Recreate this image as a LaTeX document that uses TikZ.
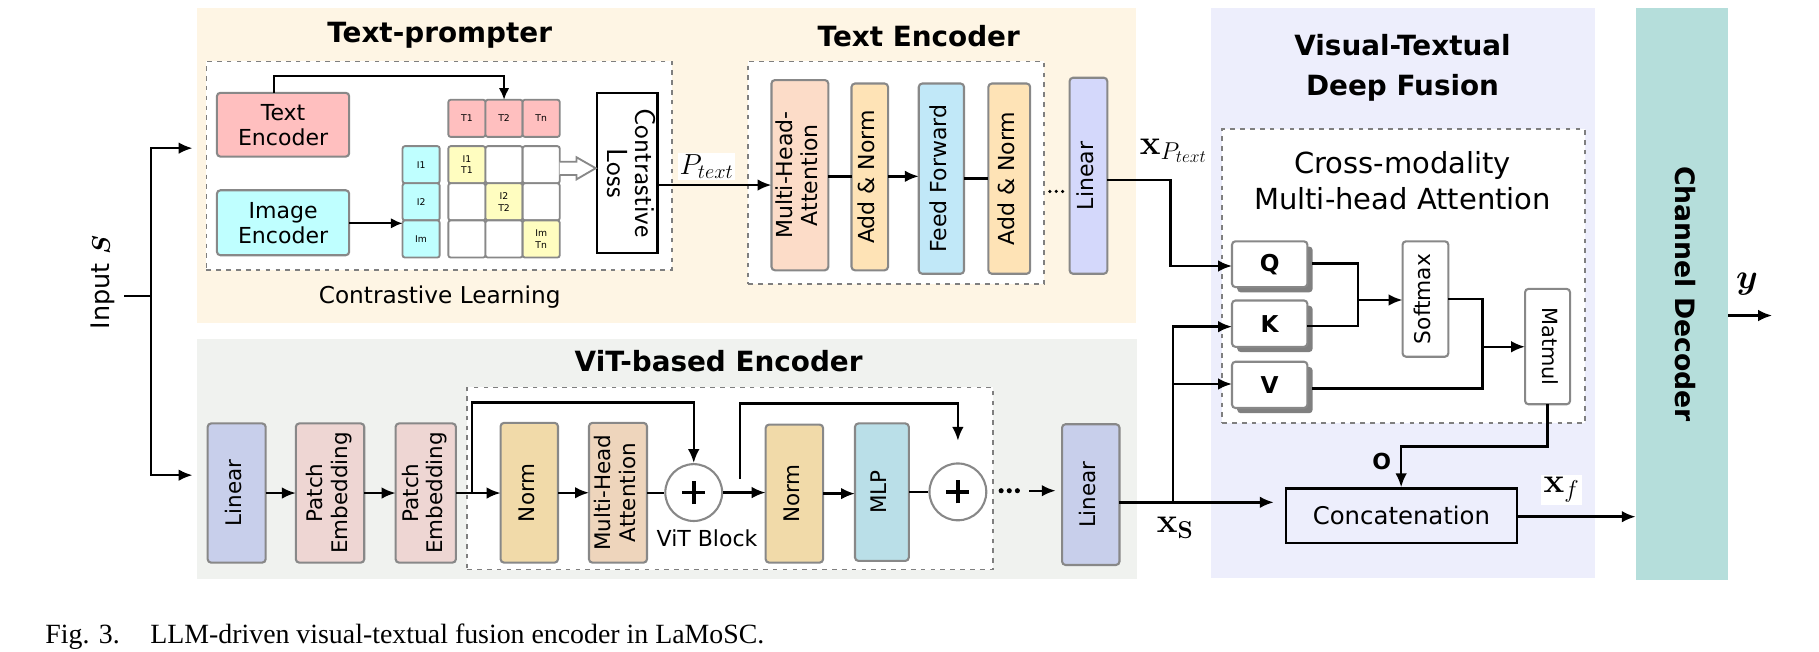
\RequirePackage{fix-cm}
\documentclass[tikz,border=0pt]{standalone}
\usepackage{amsmath}
\usepackage{bm}
\usepackage{graphicx}
\usepackage[no-math]{fontspec}
\setmainfont{DejaVu Sans}
\newfontfamily\capfont{Liberation Serif}
\usetikzlibrary{arrows.meta,shadows}

\definecolor{tpcol}{HTML}{FEF5E4}
\definecolor{vitcol}{HTML}{F0F2EF}
\definecolor{vtcol}{HTML}{EDEEFC}
\definecolor{cdcol}{HTML}{B5DEDB}
\definecolor{pinkc}{HTML}{FFBFBF}
\definecolor{cyanc}{HTML}{BFFFFF}
\definecolor{yelc}{HTML}{FFFDC0}
\definecolor{mhaT}{HTML}{FCDCC8}
\definecolor{anT}{HTML}{FEE3B6}
\definecolor{ffT}{HTML}{C1E8F8}
\definecolor{linT}{HTML}{D4D8FB}
\definecolor{linV}{HTML}{C8CFEB}
\definecolor{peV}{HTML}{EED6D3}
\definecolor{normV}{HTML}{F1DAA9}
\definecolor{mhaV}{HTML}{EED5BC}
\definecolor{mlpV}{HTML}{BADFE8}
\definecolor{bordergray}{HTML}{888888}
\definecolor{dashgray}{HTML}{7F7F7F}
\definecolor{shadowgray}{HTML}{808080}

\newcommand{\fsz}[2]{\fontsize{#1}{#2}\selectfont}
\newcommand{\vup}[1]{\rotatebox{90}{\begin{tabular}{@{}c@{}}#1\end{tabular}}}
\newcommand{\vdn}[1]{\rotatebox{-90}{\begin{tabular}{@{}c@{}}#1\end{tabular}}}
% style, name, x1, y1, x2, y2, text
\newcommand{\blk}[7]{%
  \node[#1, minimum width={(#5)-(#3)}, minimum height={(#6)-(#4)}] (#2)
    at ({((#3)+(#5))/2},{((#4)+(#6))/2}) {#7};}

\tikzset{
  bgb/.style={draw=none, inner sep=0pt, outer sep=0pt},
  box/.style={draw=bordergray, line width=1.8pt, rounded corners=3pt, inner sep=0pt, outer sep=0pt, align=center},
  dbox/.style={draw=dashgray, line width=1.5pt, dash pattern=on 4pt off 4.5pt, fill=white, inner sep=0pt, outer sep=0pt},
  conn/.style={line width=2.1pt, draw=black},
  arr/.style={line width=2.1pt, draw=black, -{Latex[length=12pt,width=10pt]}},
  ttl/.style={font=\bfseries\fsz{24}{34}, align=center, inner sep=0pt},
  cell/.style={box, line width=1.6pt, rounded corners=2pt, font=\fsz{8}{10}},
  tef/.style={box, font=\fsz{19}{21.5}},
  vif/.style={box, font=\fsz{18.5}{21}},
  qkv/.style={box, fill=white, font=\bfseries\fsz{20}{24},
    drop shadow={shadow xshift=4.5pt, shadow yshift=-4.5pt, fill=shadowgray, opacity=1}},
  plusn/.style={circle, draw=bordergray, line width=1.8pt, fill=white, minimum size=49pt, inner sep=0pt,
    path picture={\draw[black, line width=3.3pt]
      (path picture bounding box.center) +(-10pt,0pt) -- +(10pt,0pt)
      (path picture bounding box.center) +(0pt,-10pt) -- +(0pt,10pt);}},
  mlab/.style={font=\fsz{30}{34}, inner sep=0pt},
}

\begin{document}
\begin{tikzpicture}[x=1pt,y=-1pt]
\useasboundingbox (0,0) rectangle (1568,562);

% ---------- backgrounds ----------
\blk{bgb,fill=tpcol}{tpbg}{170}{7}{979}{278}{}
\blk{bgb,fill=vitcol}{vitbg}{170}{292}{980}{499}{}
\blk{bgb,fill=vtcol}{vtbg}{1044}{7}{1375}{498}{}
\blk{bgb,fill=cdcol,font=\bfseries\fsz{23}{27}}{cdec}{1410}{7}{1489.5}{500}{\vdn{Channel Decoder}}

% ---------- dashed groups ----------
\blk{dbox}{cl}{178}{53}{579}{233}{}
\blk{dbox}{teb}{645}{53}{900}{245}{}
\blk{dbox}{vb}{402.7}{334}{856}{491}{}
\blk{dbox}{cm}{1053.6}{111.5}{1366}{364.7}{}

% ---------- titles ----------
\node[ttl] (tpt) at (379,30.5) {Text-prompter};
\node[ttl] (tet) at (792,31) {Text Encoder};
\node[ttl] (vitt) at (619.5,311.5) {ViT-based Encoder};
\node[ttl] (vtt) at (1209,58.4) {Visual-Textual\\Deep Fusion};
\node[font=\fsz{25}{31}, align=center, inner sep=0pt] (cmt) at (1209,155.5) {Cross-modality\\Multi-head Attention};
\node[font=\fsz{20}{24}, inner sep=0pt] (clt) at (379,256) {Contrastive Learning};

% ---------- input ----------
\node[rotate=90, font=\fsz{22}{26}, inner sep=0pt] (inS) at (89,243.5) {Input $\bm{S}$};
\coordinate (tk) at (107,255);
\coordinate (sp) at (130,255);
\coordinate (tpin) at (166,127.7);
\coordinate (vitin) at (166,409.6);
\draw[conn] (tk) -- (sp);
\draw[arr] (sp) |- (tpin);
\draw[arr] (sp) |- (vitin);

% ---------- contrastive learning ----------
\blk{tef,fill=pinkc}{txtenc}{187}{80}{301}{135}{Text\\Encoder}
\blk{tef,fill=cyanc}{imgenc}{187}{164}{301}{220}{Image\\Encoder}

\blk{cell,fill=pinkc}{T1}{386.5}{86}{418.5}{118}{T1}
\blk{cell,fill=pinkc}{T2}{418.5}{86}{450.5}{118}{T2}
\blk{cell,fill=pinkc}{Tn}{450.5}{86}{482.5}{118}{Tn}
\blk{cell,fill=cyanc}{I1}{347}{126}{379}{158}{I1}
\blk{cell,fill=cyanc}{I2}{347}{158}{379}{190}{I2}
\blk{cell,fill=cyanc}{Im}{347}{190}{379}{222}{Im}
\blk{cell,fill=yelc}{g00}{386.5}{126}{418.5}{158}{I1\\T1}
\blk{cell,fill=white}{g01}{418.5}{126}{450.5}{158}{}
\blk{cell,fill=white}{g02}{450.5}{126}{482.5}{158}{}
\blk{cell,fill=white}{g10}{386.5}{158}{418.5}{190}{}
\blk{cell,fill=yelc}{g11}{418.5}{158}{450.5}{190}{I2\\T2}
\blk{cell,fill=white}{g12}{450.5}{158}{482.5}{190}{}
\blk{cell,fill=white}{g20}{386.5}{190}{418.5}{222}{}
\blk{cell,fill=white}{g21}{418.5}{190}{450.5}{222}{}
\blk{cell,fill=yelc}{g22}{450.5}{190}{482.5}{222}{Im\\Tn}

\blk{draw=black,line width=2.2pt,fill=white,inner sep=0pt,font=\sffamily\fsz{25}{23}}{closs}{514.6}{80}{566.7}{218}{\vdn{Contrastive\\Loss}}

\draw[line width=1.8pt, -{Latex[length=10pt,width=9pt]}] (txtenc.north -| 236,0) |- (T2.north |- 0,65.5) -- (T2.north);
\draw[line width=1.8pt, -{Latex[length=10pt,width=9pt]}] (imgenc.east |- 0,192.5) -- (Im.west |- 0,192.5);
\draw[draw=bordergray, line width=1.6pt, fill=white, line join=miter]
  (g02.east |- 0,139.4) -- (497,139.4) -- (497,135.6) -- (closs.west |- 0,145) -- (497,154.6) -- (497,150.9) -- (g02.east |- 0,150.9);

% ---------- text encoder ----------
\blk{tef,fill=mhaT}{tmha}{665}{69}{714}{233}{\vup{Multi-Head-\\Attention}}
\blk{tef,fill=anT}{tan1}{734}{72}{765.5}{233}{\vup{Add \& Norm}}
\blk{tef,fill=ffT}{tff}{792}{72}{831}{236}{\vup{Feed Forward}}
\blk{tef,fill=anT}{tan2}{852}{72}{888}{236}{\vup{Add \& Norm}}
\blk{tef,fill=linT}{tlin}{922}{67}{954.5}{236}{\vup{Linear}}

\draw[arr] (closs.east |- 0,159.5) -- (tmha.west |- 0,159.5);
\node[fill=white, inner sep=1.5pt, font=\fsz{25}{28}] (ptl) at (609,143.6) {$P_{text}$};
\draw[conn] (tmha.east |- 0,152) -- (tan1.west |- 0,152);
\draw[arr] (tan1.east |- 0,152) -- (tff.west |- 0,152);
\draw[conn] (tff.east |- 0,154) -- (tan2.west |- 0,154);
\foreach \xx in {905,910.5,916} \fill (\xx,165) circle[radius=1.5pt];

\coordinate (xpt) at (1009,155);
\node[mlab] (xptl) at (1011.5,130) {$\mathbf{x}_{P_{text}}$};

% ---------- ViT encoder ----------
\blk{vif,fill=linV}{vlin1}{179}{365}{229}{485}{\vup{Linear}}
\blk{vif,fill=peV}{pe1}{255}{365}{314}{485}{\vup{Patch\\Embedding}}
\blk{vif,fill=peV}{pe2}{341}{365}{393}{485}{\vup{Patch\\Embedding}}
\blk{vif,fill=normV}{norm1}{431.5}{364.5}{481}{485}{\vup{Norm}}
\blk{vif,fill=mhaV}{vmha}{507.7}{364.5}{557.7}{485}{\vup{Multi-Head\\Attention}}
\node[plusn] (p1) at (598,424.6) {};
\blk{vif,fill=normV}{norm2}{660}{366}{709.5}{485}{\vup{Norm}}
\blk{vif,fill=mlpV}{mlp}{737}{365}{783.4}{483.5}{\vup{MLP}}
\node[plusn] (p2) at (825.7,424) {};
\blk{vif,fill=linV}{vlin2}{915.5}{365.7}{965}{487}{\vup{Linear}}
\node[font=\fsz{19}{22}, inner sep=0pt] (vbt) at (609.5,464) {ViT Block};

\draw[arr] (vlin1.east) -- (vlin1.east -| pe1.west);
\draw[arr] (pe1.east) -- (pe1.east -| pe2.west);
\draw[arr] (pe2.east) -- (pe2.east -| norm1.west);
\coordinate (b1) at (407,425);
\draw[arr] (b1) |- (p1.north |- 0,347) -- (p1.north);
\draw[arr] (norm1.east) -- (norm1.east -| vmha.west);
\draw[conn] (vmha.east) -- (vmha.east -| p1.west);
\draw[arr] (p1.east) -- (p1.east -| norm2.west);
\coordinate (b2) at (638,413);
\coordinate (b2e) at (825.7,380);
\draw[arr] (b2) |- (b2e |- 0,348) -- (b2e);
\draw[arr] (norm2.east) -- (norm2.east -| mlp.west);
\draw[conn] (mlp.east) -- (mlp.east -| p2.west);
\foreach \xx in {863,870,877} \fill (\xx,423) circle[radius=2.2pt];
\coordinate (dv) at (887,423);
\draw[arr, shorten >=5.5pt] (dv) -- (dv -| vlin2.west);

% ---------- fusion ----------
\blk{qkv}{Q}{1062}{208}{1127}{247.5}{Q}
\blk{qkv}{K}{1062}{259}{1127}{299}{K}
\blk{qkv}{V}{1062}{311.8}{1127}{351.7}{V}
\blk{box,fill=white,font=\fsz{18.7}{22}}{smax}{1209}{208}{1248.5}{307.5}{\vup{Softmax}}
\blk{box,fill=white,font=\fsz{18}{22}}{mm}{1314.6}{249}{1353.4}{348.5}{\vdn{Matmul}}
\blk{draw=black,line width=2pt,fill=vtcol,inner sep=0pt,font=\fsz{21}{24}}{cc}{1108.6}{421}{1307.5}{467.8}{Concatenation}

\draw[arr] (tlin.east |- 0,155) -- (xpt) |- (Q.west |- 0,229.3);

\coordinate (xs) at (1011,433);
\draw[arr, shorten >=9.6pt] (vlin2.east |- 0,433) -- (cc.west |- 0,433);
\draw[arr] (xs) |- (K.west |- 0,281.6);
\draw[arr] (xs |- 0,331) -- (V.west |- 0,331);
\node[mlab] (xsl) at (1013,455) {$\mathbf{x}_{\mathbf{S}}$};

\coordinate (qk) at (1170.8,258.6);
\draw[conn] (Q.east |- 0,227) ++(4,0) -| (qk);
\draw[conn] (K.east |- 0,281) -| (qk);
\draw[arr] (qk) -- (qk -| smax.west);
\coordinate (sm) at (1278,298.9);
\draw[conn] (smax.east |- 0,257.7) -| (sm);
\draw[conn] (V.east |- 0,335) ++(4,0) -| (sm);
\draw[arr] (sm) -- (sm -| mm.west);
\coordinate (mo) at (1207.8,385);
\draw[arr] (mm.south) |- (mo) -- (mo |- cc.north);
\node[font=\bfseries\fsz{19}{22}, inner sep=0pt] (ol) at (1191,398) {O};

\draw[arr] (cc.east |- 0,445.4) -- (cdec.west |- 0,445.4);
\node[fill=white, inner sep=2pt, font=\fsz{30}{34}] (xfl) at (1346,422) {$\mathbf{x}_f$};
\coordinate (yo) at (1527.6,272);
\draw[arr] (cdec.east |- yo) -- (yo);
\node[mlab] (yl) at (1506,245) {$\bm{y}$};

% ---------- caption ----------
\node[anchor=base west, inner sep=0pt, font=\capfont\fsz{24}{28}] (cap) at (39,554.6)
  {Fig. 3.\hspace{1.1em}LLM-driven visual-textual fusion encoder in LaMoSC.};
\end{tikzpicture}
\end{document}
